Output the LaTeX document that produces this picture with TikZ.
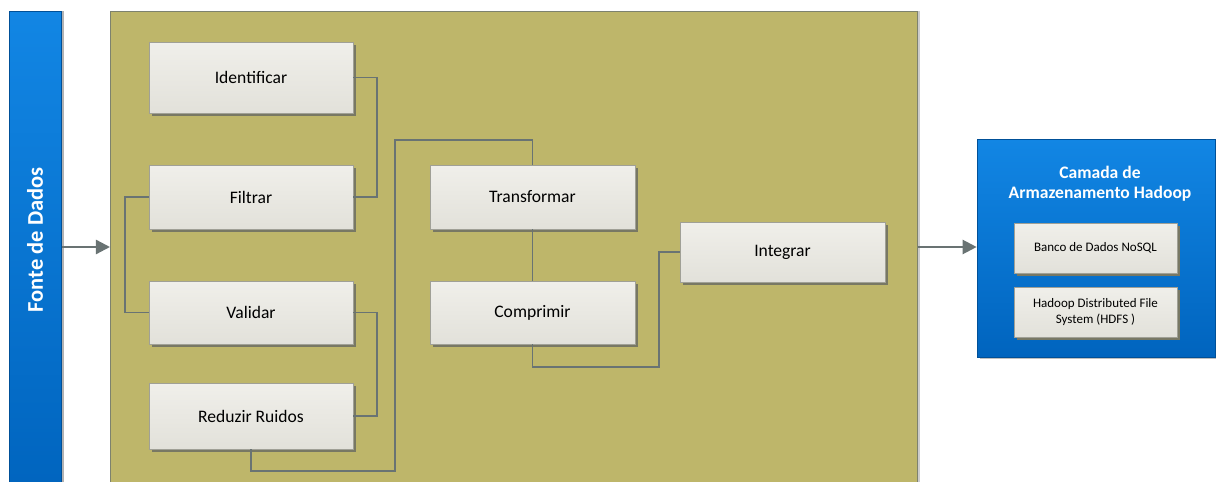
\documentclass[tikz,border=0pt]{standalone}
\usepackage{fontspec}
\setmainfont{Carlito}
\usetikzlibrary{arrows.meta, positioning, shadows}
\definecolor{olive}{RGB}{190,182,106}
\definecolor{oliveedge}{RGB}{125,130,110}
\definecolor{bluetop}{RGB}{18,134,228}
\definecolor{bluebot}{RGB}{0,100,190}
\definecolor{boxtop}{RGB}{240,239,234}
\definecolor{boxbot}{RGB}{226,225,218}
\definecolor{boxedge}{RGB}{160,160,150}
\definecolor{linegray}{RGB}{105,115,115}
\definecolor{shade}{RGB}{120,120,100}

\begin{document}
\begin{tikzpicture}[
      x=0.02cm, y=0.02cm,
      stagebox/.style={draw=boxedge, top color=boxtop, bottom color=boxbot,
        minimum width=4.08cm, inner sep=0pt, font=\fontsize{10}{12}\selectfont,
        drop shadow={shadow xshift=0.06cm, shadow yshift=-0.06cm, fill=shade, opacity=1}},
      storebox/.style={stagebox, minimum width=3.26cm, minimum height=1cm,
        align=center, font=\fontsize{7.4}{9}\selectfont},
      bluebox/.style={draw=bluebot!80!black, top color=bluetop, bottom color=bluebot, inner sep=0pt},
      conn/.style={draw=linegray, line width=1.1pt},
      arrow/.style={-{Triangle[length=8pt, width=8pt]}, draw=linegray, fill=linegray, line width=1.3pt},
      whitelbl/.style={text=white, font=\bfseries}
    ]
    \useasboundingbox (0,0) rectangle (1216,-482);

    % Source bar and processing panel
    \node[bluebox, minimum width=1.04cm, minimum height=9.68cm, anchor=north west,
      drop shadow={shadow xshift=0.05cm, shadow yshift=0cm, fill=gray!60, opacity=1}] (fonte) at (9,-11) {};
    \node[whitelbl, rotate=90, font=\fontsize{12.8}{14}\bfseries] (fontelbl) at (35,-240) {Fonte de Dados};
    \node[draw=oliveedge, fill=olive, minimum width=16.14cm, minimum height=9.7cm, anchor=north west,
      drop shadow={shadow xshift=0.05cm, shadow yshift=0cm, fill=gray!40, opacity=1}] (panel) at (110,-11) {};

    % Steps
    \node[stagebox, minimum height=1.42cm] (ident) at (251,-77.5) {Identificar};
    \node[stagebox, minimum height=1.28cm] (filtrar) at (251,-197) {Filtrar};
    \node[stagebox, minimum height=1.26cm] (validar) at (251,-312.5) {Validar};
    \node[stagebox, minimum height=1.32cm] (reduzir) at (251,-416) {Reduzir Ruidos};
    \node[stagebox, minimum height=1.28cm, minimum width=4.1cm] (transf) at (532.5,-197) {Transformar};
    \node[stagebox, minimum height=1.26cm, minimum width=4.1cm] (compr) at (532.5,-312.5) {Comprimir};
    \node[stagebox, minimum height=1.2cm, minimum width=4.1cm] (integ) at (782.5,-252) {Integrar};

    % Storage layer
    \node[bluebox, minimum width=4.76cm, minimum height=4.36cm,
      drop shadow={shadow xshift=0.05cm, shadow yshift=-0.05cm, fill=gray!50, opacity=1}] (hadoop) at (1096,-248) {};
    \node[whitelbl, align=center, font=\fontsize{10}{11.3}\bfseries] (htitle) at (1100,-184) {Camada de\\Armazenamento Hadoop};
    \node[storebox] (nosql) at (1095.5,-248) {Banco de Dados NoSQL};
    \node[storebox] (hdfs) at (1095.5,-312) {Hadoop Distributed File\\System (HDFS )};

    % Connectors
    \coordinate (jog) at (395,-140);
    \coordinate (bend) at (659,-252);
    \coordinate (flow) at (0,-247);
    \draw[conn] (ident.east) -- ++(24,0) |- (filtrar.east);
    \draw[conn] (filtrar.west) -- ++(-24,0) |- (validar.west);
    \draw[conn] (validar.east) -- ++(24,0) |- (reduzir.east);
    \draw[conn] (reduzir.south) -- ++(0,-22) -| (jog) -| (transf.north);
    \draw[conn] (transf.south) -- (compr.north);
    \draw[conn] (compr.south) -- ++(0,-23) -| (bend) -- (integ.west);

    % Flow arrows
    \draw[arrow] (fonte.east |- flow) -- (panel.west |- flow);
    \draw[arrow] (panel.east |- flow) -- (hadoop.west |- flow);

  \end{tikzpicture}
\end{document}
